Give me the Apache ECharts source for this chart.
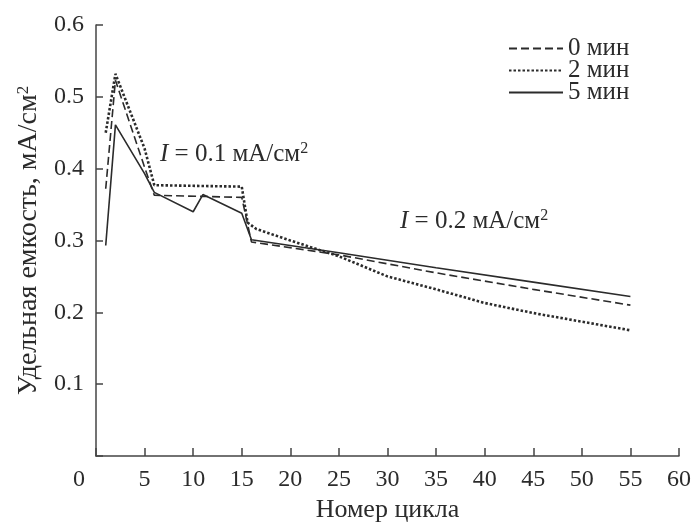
<!DOCTYPE html>
<html>
<head>
<meta charset="utf-8">
<script src="https://cdn.jsdelivr.net/npm/echarts@6/dist/echarts.min.js"></script>
<style>
  html, body { margin: 0; padding: 0; background: #fff; }
  #chart { width: 693px; height: 523px; }
</style>
</head>
<body>
<div id="chart"></div>
<script>
// данные: [цикл, емкость]
var seriesNames = ['0 мин', '2 мин', '5 мин'];
var data0 = [[1, 0.372], [2, 0.523], [5, 0.402], [6, 0.363], [15, 0.360], [16, 0.298], [25, 0.280], [35, 0.255], [45, 0.232], [55, 0.210]];
var data2 = [[1, 0.450], [2, 0.532], [5, 0.428], [6, 0.377], [15, 0.375], [15.6, 0.325], [16.5, 0.316], [20, 0.300], [25, 0.278], [30, 0.250], [35, 0.232], [40, 0.213], [45, 0.199], [50, 0.187], [55, 0.175]];
var data5 = [[1, 0.293], [2, 0.461], [5, 0.393], [6, 0.367], [10, 0.340], [11, 0.364], [15, 0.338], [16, 0.301], [25, 0.283], [35, 0.262], [45, 0.242], [55, 0.222]];
var xTicks = {min: 0, max: 60, step: 5};
var yTicks = {min: 0, max: 0.6, step: 0.1};

var serif = '"Liberation Serif", "DejaVu Serif", serif';
var ink = '#2b2b2b';

var myChart = echarts.init(document.getElementById('chart'), null, {renderer: 'canvas'});

function noteStyle(txt) {
    return {
        text: txt,
        font: '25px ' + serif, fill: ink,
        rich: {
            i: {fontFamily: serif, fontSize: 25, fontStyle: 'italic', fill: ink},
            s: {fontFamily: serif, fontSize: 16, fill: ink, padding: [0, 0, 11, 0]}
        }
    };
}

var option = {
    animation: false,
    backgroundColor: '#fff',
    grid: {left: 96, right: 14, top: 25, bottom: 67, outerBoundsMode: 'none', containLabel: false},
    legend: {
        orient: 'vertical',
        left: 508,
        top: 36,
        padding: 0,
        itemWidth: 54,
        itemHeight: 14,
        itemGap: -3,
        itemStyle: {opacity: 0},
        textStyle: {fontFamily: serif, fontSize: 25, lineHeight: 22, color: ink},
        data: seriesNames
    },
    xAxis: {
        type: 'value',
        min: xTicks.min,
        max: xTicks.max,
        interval: xTicks.step,
        name: 'Номер цикла',
        nameLocation: 'middle',
        nameGap: 40,
        nameTextStyle: {fontFamily: serif, fontSize: 26, color: ink},
        axisLine: {show: true, lineStyle: {color: '#444', width: 1.5}},
        axisTick: {show: true, inside: true, length: 8, lineStyle: {color: '#444', width: 1.5}},
        splitLine: {show: false},
        axisLabel: {
            margin: 12,
            fontFamily: serif, fontSize: 24, color: ink,
            formatter: function (v) { return v === 0 ? '{o|0}' : String(v); },
            rich: {o: {fontFamily: serif, fontSize: 24, color: ink, padding: [0, 34, 0, 0]}}
        }
    },
    yAxis: {
        type: 'value',
        min: yTicks.min,
        max: yTicks.max,
        interval: yTicks.step,
        name: 'Удельная емкость, мА/см{s|2}',
        nameLocation: 'middle',
        nameRotate: 90,
        nameGap: 51,
        nameTextStyle: {
            fontFamily: serif, fontSize: 28, color: ink,
            rich: {s: {fontFamily: serif, fontSize: 17, color: ink, padding: [0, 0, 11, 0]}}
        },
        axisLine: {show: true, lineStyle: {color: '#444', width: 1.5}},
        axisTick: {show: true, inside: true, length: 7, lineStyle: {color: '#444', width: 1.5}},
        splitLine: {show: false},
        axisLabel: {
            margin: 12,
            fontFamily: serif, fontSize: 24, color: ink,
            formatter: function (v) { return v === 0 ? '' : v.toFixed(1); }
        }
    },
    graphic: [
        {type: 'text', left: 160, top: 141, style: noteStyle('{i|I} = 0.1 мА/см{s|2}')},
        {type: 'text', left: 400, top: 208, style: noteStyle('{i|I} = 0.2 мА/см{s|2}')}
    ],
    series: [
        {
            name: seriesNames[0], type: 'line', data: data0,
            symbol: 'none', color: ink,
            lineStyle: {color: ink, width: 1.6, type: [8, 4]}
        },
        {
            name: seriesNames[1], type: 'line', data: data2,
            symbol: 'none', color: ink,
            lineStyle: {color: ink, width: 2.6, type: [2.5, 2]}
        },
        {
            name: seriesNames[2], type: 'line', data: data5,
            symbol: 'none', color: ink,
            lineStyle: {color: ink, width: 1.6, type: 'solid'}
        }
    ]
};

myChart.setOption(option);
</script>
</body>
</html>
